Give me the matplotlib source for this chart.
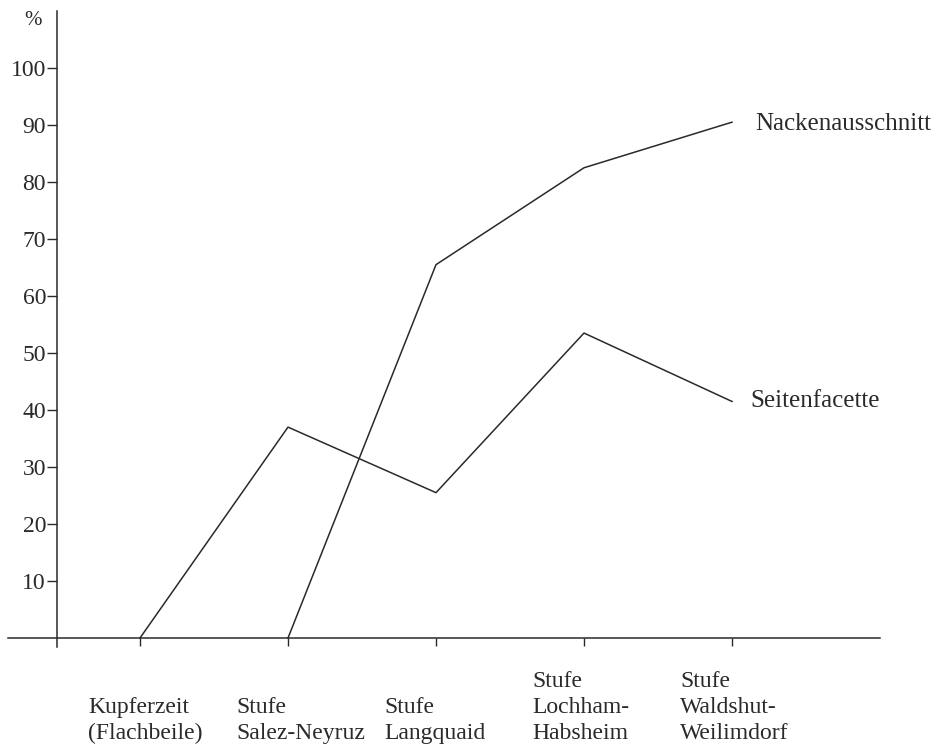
import matplotlib
matplotlib.use('Agg')

import matplotlib.pyplot as plt
import numpy as np

# categories (stages) and the two series, in percent
stages = ["Kupferzeit\n(Flachbeile)", "Stufe\nSalez-Neyruz", "Stufe\nLangquaid",
          "Stufe\nLochham-\nHabsheim", "Stufe\nWaldshut-\nWeilimdorf"]
nacken = [np.nan, 0, 65.5, 82.5, 90.5]
seiten = [0, 37, 25.5, 53.5, 41.5]
series_names = ["Nackenausschnitt", "Seitenfacette"]
yticks = [10, 20, 30, 40, 50, 60, 70, 80, 90, 100]

plt.rcParams['font.family'] = ['Liberation Serif', 'DejaVu Serif']
ink = '#2a2a2a'

fig = plt.figure(figsize=[9.42, 7.52], dpi=100)
ax = fig.add_axes([6.8 / 942, 0.1137, 888 / 942, 0.8868])
x = np.arange(len(stages))

ax.plot(x, nacken, '-', color=ink, lw=1.1)
ax.plot(x, seiten, '-', color=ink, lw=1.1)

# series labels at the line ends
ax.annotate(series_names[0], xy=(x[-1], nacken[-1]), xytext=(17, -1),
            textcoords='offset points', va='center', ha='left', fontsize=18, color=ink)
ax.annotate(series_names[1], xy=(x[-1], seiten[-1]), xytext=(13, 0),
            textcoords='offset points', va='center', ha='left', fontsize=18, color=ink)

ax.set_xlim(-0.9, 5.1)
ax.set_ylim(-5, 112)

for s in ['top', 'right']:
    ax.spines[s].set_visible(False)
ax.spines['left'].set_position(('data', -0.56))
ax.spines['left'].set_bounds(-1.5, 110)
ax.spines['bottom'].set_position(('data', 0))
ax.spines['bottom'].set_bounds(-0.89, 5.0)
for s in ['left', 'bottom']:
    ax.spines[s].set_color(ink)
    ax.spines[s].set_linewidth(1.1)

ax.set_yticks(yticks)
ax.set_yticklabels([str(v) for v in yticks])
ax.tick_params(axis='y', direction='out', length=7, width=1, color=ink,
               labelsize=17, labelcolor=ink, pad=1)

ax.set_xticks(x)
ax.set_xticklabels([])
ax.tick_params(axis='x', direction='out', length=6, width=1, color=ink)

# stage names below the axis, left aligned, bottom aligned
for i, name in enumerate(stages):
    ax.text(x[i] - 0.35, -18.6, name, ha='left', va='bottom', fontsize=17,
            color=ink, linespacing=1.3)

ax.text(-0.72, 108.4, '%', ha='center', va='center', fontsize=15, color=ink)

fig.savefig('out.png', dpi=100)
plt.close(fig)
